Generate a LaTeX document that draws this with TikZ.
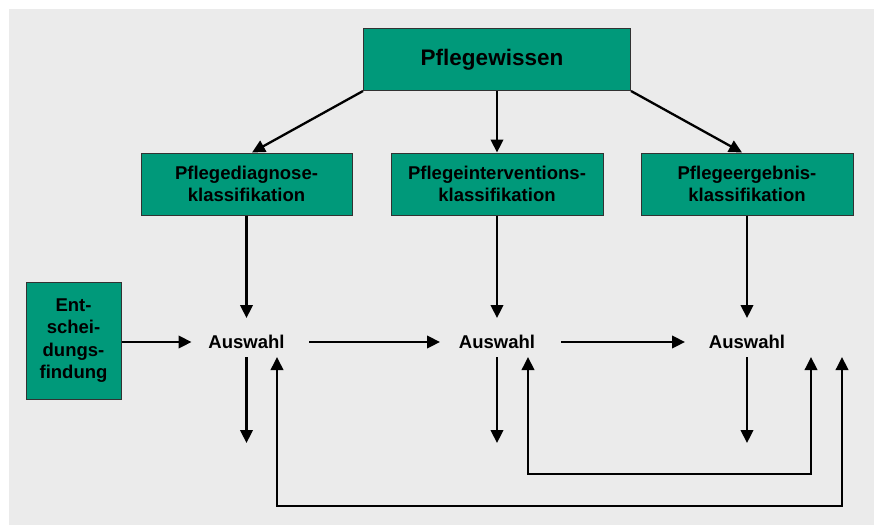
\documentclass[tikz,border=0pt]{standalone}
\usepackage{fontspec}
\setmainfont{Liberation Sans}
\usetikzlibrary{arrows.meta}
\definecolor{boxgreen}{RGB}{0,153,122}
\definecolor{panel}{RGB}{235,235,235}
\definecolor{edge}{RGB}{50,50,50}
\begin{document}
\begin{tikzpicture}[x=1pt,y=-1pt,
  greenbox/.style={draw=edge, line width=1pt, fill=boxgreen, align=center,
    font=\bfseries\fontsize{18.5}{22}\selectfont, inner sep=0pt},
  choice/.style={font=\bfseries\fontsize{18.5}{22}\selectfont, inner sep=0pt},
  arr/.style={line width=2.3pt, -{Triangle[length=13pt,width=12.5pt]}},
  looparr/.style={line width=2pt, {Triangle[length=13pt,width=12.5pt]}-{Triangle[length=13pt,width=12.5pt]}}
]
% page and panel
\useasboundingbox (0,0) rectangle (874,525);
\fill[white] (0,0) rectangle (874,525);
\fill[panel] (9,9) rectangle (874,525);

% boxes
\node[greenbox, minimum width=267pt, minimum height=62pt,
      font=\bfseries\fontsize{22.5}{26}\selectfont] (pw) at (497,59.5) {\hspace*{-10pt}Pflegewissen};
\node[greenbox, minimum width=211pt, minimum height=62pt] (d1) at (246.5,184) {Pflegediagnose-\\klassifikation};
\node[greenbox, minimum width=212pt, minimum height=62pt] (d2) at (497,184) {Pflegeinterventions-\\klassifikation};
\node[greenbox, minimum width=212pt, minimum height=62pt] (d3) at (747,184) {Pflegeergebnis-\\klassifikation};
\node[greenbox, minimum width=95pt, minimum height=117pt,
      font=\bfseries\fontsize{18.5}{22.5}\selectfont] (e) at (73.5,340.5) {Ent-\\schei-\\dungs-\\findung};

% selection steps
\node[choice] (a1) at (246.5,342) {Auswahl};
\node[choice] (a2) at (497,342) {Auswahl};
\node[choice] (a3) at (747,342) {Auswahl};

% free ends of the feedback loops
\coordinate (r1) at (811,357);
\coordinate (r2) at (842,357);

% knowledge to classifications
\draw[arr] (pw.south west) -- ([xshift=5.5pt]d1.north);
\draw[arr] (pw.south) -- (d2.north);
\draw[arr] (pw.south east) -- ([xshift=-5pt]d3.north);

% classifications to selections
\draw[arr] (d1.south) -- ([yshift=24pt]a1.center);
\draw[arr] (d2.south) -- ([yshift=24pt]a2.center);
\draw[arr] (d3.south) -- ([yshift=24pt]a3.center);

% horizontal flow
\draw[arr] (e.east |- a1.center) -- ([xshift=-55pt]a1.center);
\draw[arr] ([xshift=62.5pt]a1.center) -- ([xshift=-57pt]a2.center);
\draw[arr] ([xshift=64pt]a2.center) -- ([xshift=-62pt]a3.center);

% outputs
\draw[arr] ([yshift=-15pt]a1.center) -- ++(0,86);
\draw[arr] ([yshift=-15pt]a2.center) -- ++(0,86);
\draw[arr] ([yshift=-15pt]a3.center) -- ++(0,86);

% feedback loops
\draw[looparr] ([xshift=31pt,yshift=-15pt]a2.center) -- ++(0,117) -| (r1);
\draw[looparr] ([xshift=30.5pt,yshift=-15pt]a1.center) -- ++(0,149) -| (r2);
\end{tikzpicture}
\end{document}
